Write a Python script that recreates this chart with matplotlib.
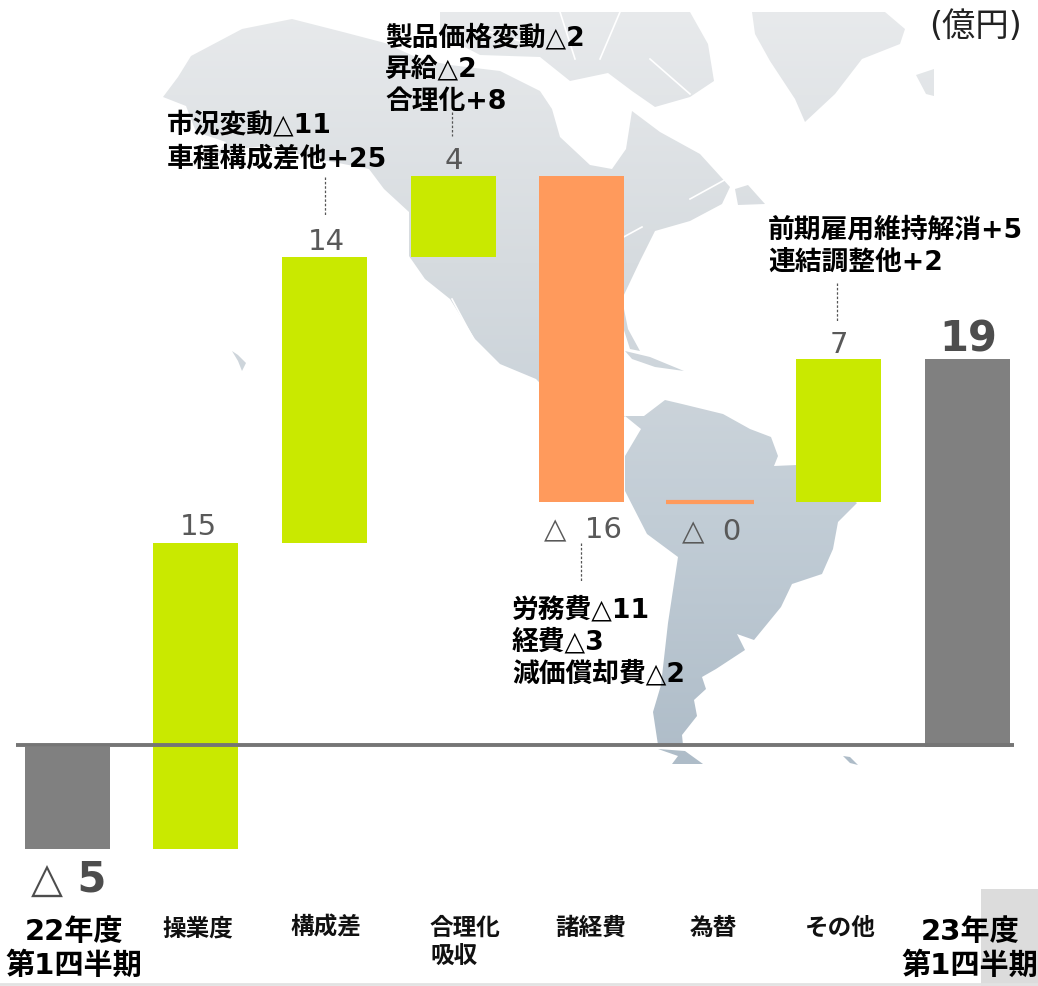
import matplotlib
matplotlib.use("Agg")
import matplotlib.pyplot as plt
import numpy as np
from matplotlib.path import Path
from matplotlib.patches import PathPatch, Rectangle
from matplotlib.colors import LinearSegmentedColormap

W, H = 1038, 987
FONT = ['DejaVu Sans', 'Noto Sans CJK JP']
plt.rcParams['font.family'] = FONT

# ---- data ----
categories = ['22年度\n第1四半期', '操業度', '構成差', '合理化\n吸収', '諸経費', '為替', 'その他', '23年度\n第1四半期']
start_value = -5
deltas = [15, 14, 4, -16, 0, 7]
end_value = 19
value_labels = ['△ 5', '15', '14', '4', '△  16', '△  0', '7', '19']

GREEN, ORANGE, GREY = '#c9e900', '#ff9a5c', '#808080'

# ---- figure ----
fig = plt.figure(figsize=(W / 100, H / 100), dpi=100, facecolor='white')


def T(px, py, s, **kw):
    """Place text using reference pixel coordinates."""
    return fig.text(px / W, 1 - py / H, s, zorder=10, **kw)


# ---- background map (decorative, pixel space) ----
bg = fig.add_axes([0, 0, 1, 1], zorder=0)
bg.set_xlim(0, W)
bg.set_ylim(H, 0)
bg.axis('off')

north_america = [(163, 98), (178, 78), (191, 57), (242, 30), (292, 20), (343, 33), (385, 44), (420, 60), (450, 66),
                 (500, 72), (540, 92), (552, 110), (560, 138), (590, 166), (612, 170), (626, 150), (632, 112),
                 (660, 133), (700, 155), (730, 188), (722, 205), (690, 222), (655, 232), (640, 262), (622, 300),
                 (628, 330), (640, 352), (630, 350), (622, 325), (590, 335), (570, 345), (564, 368), (578, 388),
                 (600, 382), (610, 395), (600, 415), (625, 417), (616, 425), (585, 412), (560, 405), (536, 380),
                 (500, 365), (475, 340), (450, 300), (425, 280), (409, 257), (409, 213), (384, 190), (369, 170),
                 (318, 160), (267, 147), (236, 150), (181, 172), (216, 157), (226, 143), (196, 133), (186, 107)]
arctic = [(440, 13), (690, 13), (708, 45), (714, 82), (690, 98), (655, 108), (632, 92), (608, 74), (570, 82),
          (540, 58), (480, 56), (440, 35)]
greenland = [(752, 13), (885, 13), (905, 30), (900, 45), (862, 60), (835, 95), (805, 123), (795, 100), (770, 62),
             (755, 35)]
iceland = [(934, 70), (916, 76), (926, 95), (934, 97)]
newfoundland = [(735, 190), (748, 186), (765, 205), (738, 206)]
cuba = [(625, 352), (650, 358), (684, 372), (655, 368), (632, 360)]
hawaii = [(232, 352), (238, 356), (246, 364), (242, 372), (238, 362)]
south_america = [(625, 417), (644, 417), (665, 401), (682, 405), (723, 415), (750, 430), (771, 438), (778, 457),
                 (774, 467), (797, 466), (857, 504), (838, 523), (833, 550), (822, 575), (792, 585), (781, 608),
                 (754, 641), (737, 635), (745, 651), (716, 670), (702, 678), (706, 690), (694, 701), (697, 717),
                 (682, 736), (683, 746), (658, 746), (653, 713), (661, 686), (668, 624), (678, 558), (647, 535),
                 (625, 492), (625, 457), (641, 430)]
fuego = [(658, 750), (685, 752), (703, 765), (672, 765), (678, 757)]
falkland = [(843, 757), (850, 758), (858, 766), (850, 764)]

verts, codes = [], []
for poly in [north_america, arctic, greenland, iceland, newfoundland, cuba, hawaii, south_america, fuego, falkland]:
    verts += poly + [poly[0]]
    codes += [Path.MOVETO] + [Path.LINETO] * (len(poly) - 1) + [Path.CLOSEPOLY]
clip = PathPatch(Path(verts, codes), transform=bg.transData, facecolor='none', edgecolor='none')
bg.add_patch(clip)
cmap = LinearSegmentedColormap.from_list('map', ['#e8eaec', '#d6dbdf', '#c2cdd6', '#aebcc8'])
im = bg.imshow(np.linspace(0, 1, 256).reshape(-1, 1), cmap=cmap, aspect='auto', extent=(0, W, 770, 10), zorder=1)
im.set_clip_path(clip)
bg.set_xlim(0, W)
bg.set_ylim(H, 0)
# white channels and Baja gulf
for line in [[(452, 300), (475, 343)], [(560, 13), (575, 60)], [(620, 13), (600, 60)], [(650, 60), (690, 95)],
             [(480, 30), (530, 45)], [(690, 200), (730, 178)], [(620, 240), (642, 228)]]:
    bg.plot(*zip(*line), color='white', lw=1.2, zorder=2)
bg.add_patch(Rectangle((981, 890), 57, 97, facecolor='#dcdcdc', edgecolor='none', zorder=2))
bg.plot([0, W], [985, 985], color='#e2e2e2', lw=2, zorder=2)

# ---- chart ----
ax = fig.add_axes([0, 0, 1, 1], zorder=1)
ax.patch.set_alpha(0)
ax.axis('off')
UNIT, ZERO, CX0, STEP = 20.4, 748.0, 67.3, 128.6
ax.set_xlim(-CX0 / STEP, (W - CX0) / STEP)
ax.set_ylim((ZERO - H) / UNIT, ZERO / UNIT)

width = 85 / STEP
ax.bar(0, start_value, width, color=GREY)
level = start_value
for i, d in enumerate(deltas, start=1):
    if d == 0:
        ax.plot([i - 44 / STEP, i + 44 / STEP], [level, level], color=ORANGE, lw=3, solid_capstyle='butt')
    else:
        ax.bar(i, d, width, bottom=level, color=GREEN if d > 0 else ORANGE)
    level += d
ax.bar(7, end_value, width, color=GREY)
# baseline rule sits a little above the bars' common zero in the reference
ax.plot([(16 - CX0) / STEP, (1014 - CX0) / STEP], [(ZERO - 746) / UNIT] * 2, color='#757575', lw=2.8,
        solid_capstyle='butt', zorder=5)

# value labels
VAL = '#595959'
val_pos = [(69, 880), (198, 527), (326, 242), (454, 161), (583, 529), (712, 531), (839, 345), (968, 339)]
for i, (lab, (px, py)) in enumerate(zip(value_labels, val_pos)):
    big = i in (0, 7)
    T(px, py, lab, ha='center', va='center', fontsize=30 if big else 21, color='#4d4d4d' if big else VAL,
      fontweight='bold' if big else 'normal')

# notes
notes = [(167, 125, '市況変動△11'), (167, 159, '車種構成差他+25'),
         (385, 38, '製品価格変動△2'), (385, 70, '昇給△2'), (385, 102, '合理化+8'),
         (768, 231, '前期雇用維持解消+5'), (768, 263, '連結調整他+2'),
         (512, 610, '労務費△11'), (512, 642, '経費△3'), (512, 674, '減価償却費△2')]
for px, py, s in notes:
    T(px, py, s, ha='left', va='center', fontsize=19.3, fontweight='bold', color='black')

# leader lines
for px, y0, y1 in [(325, 178, 216), (452, 113, 137), (581, 544, 582), (837, 284, 322)]:
    bg.plot([px, px], [y0, y1], color='#555555', lw=0.9, ls=(0, (2, 1.5)), zorder=3)

T(976, 27, '(億円)', ha='center', va='center', fontsize=24, color='#222222')

# category labels
small_pos = {1: (198, 928), 2: (326, 928), 4: (591, 928), 5: (713, 928), 6: (840, 928)}
for i, (px, py) in small_pos.items():
    T(px, py, categories[i], ha='center', va='center', fontsize=17, fontweight='bold', color='#111111')
l1, l2 = categories[3].split('\n')
T(430, 928, l1, ha='left', va='center', fontsize=17, fontweight='bold', color='#111111')
T(430, 956, l2, ha='left', va='center', fontsize=17, fontweight='bold', color='#111111')
for i, cx in [(0, 74), (7, 970)]:
    l1, l2 = categories[i].split('\n')
    T(cx, 932, l1, ha='center', va='center', fontsize=21, fontweight='bold', color='black')
    T(cx, 966, l2, ha='center', va='center', fontsize=21, fontweight='bold', color='black')

fig.savefig('out.png', dpi=100, facecolor='white')
